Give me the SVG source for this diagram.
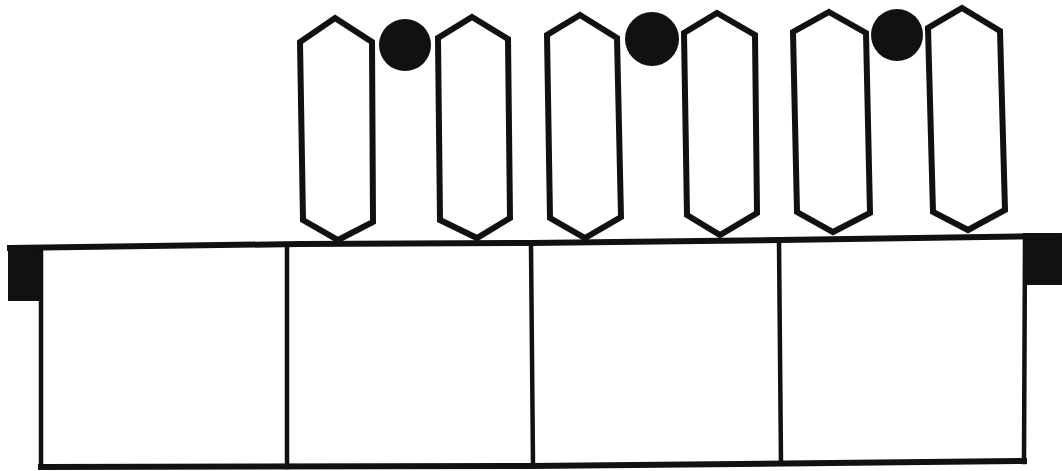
<svg xmlns="http://www.w3.org/2000/svg" width="1062" height="471" viewBox="0 0 1062 471">
<style>
.hex{fill:#fff;stroke:#111;stroke-width:6;stroke-linejoin:miter}
.ln{fill:none;stroke:#111;stroke-width:4.5;stroke-linecap:square}
.blk{fill:#111}
</style>
<rect width="1062" height="471" fill="#fff"/>
<g id="base">
<rect class="blk" x="8" y="245" width="34" height="56"/>
<rect class="blk" x="1023" y="233" width="39" height="52"/>
<path class="ln" d="M41 249 L41 467"/>
<path class="ln" d="M287 248 L287 467"/>
<path class="ln" d="M531 245 L533 465"/>
<path class="ln" d="M779 242 L781 463"/>
<path class="ln" d="M1025 236 L1024 462"/>
<path class="ln" d="M41 467 L530 466 L1024 461" style="stroke-width:6"/>
<path class="ln" d="M10 248 L300 244 L530 243 L780 240 L1050 236" style="stroke-width:6"/>
</g>
<g id="cells">
<polygon id="h1" class="hex" points="335,18 372,42 373,222 338,240 303,220 300,42"/>
<polygon id="h2" class="hex" points="472,17 508,39 510,218 477,238 440,220 438,38"/>
<polygon id="h3" class="hex" points="580,15 617,38 621,217 585,238 550,218 547,35"/>
<polygon id="h4" class="hex" points="717,13 755,35 757,213 720,235 687,215 684,33"/>
<polygon id="h5" class="hex" points="829,12 866,33 870,213 833,232 797,212 793,32"/>
<polygon id="h6" class="hex" points="962,8 1000,31 1005,210 968,230 933,212 928,28"/>
</g>
<g id="dots">
<circle class="blk" cx="405" cy="45" r="26"/>
<circle class="blk" cx="652" cy="39" r="27"/>
<circle class="blk" cx="897" cy="35" r="26"/>
</g>
</svg>
